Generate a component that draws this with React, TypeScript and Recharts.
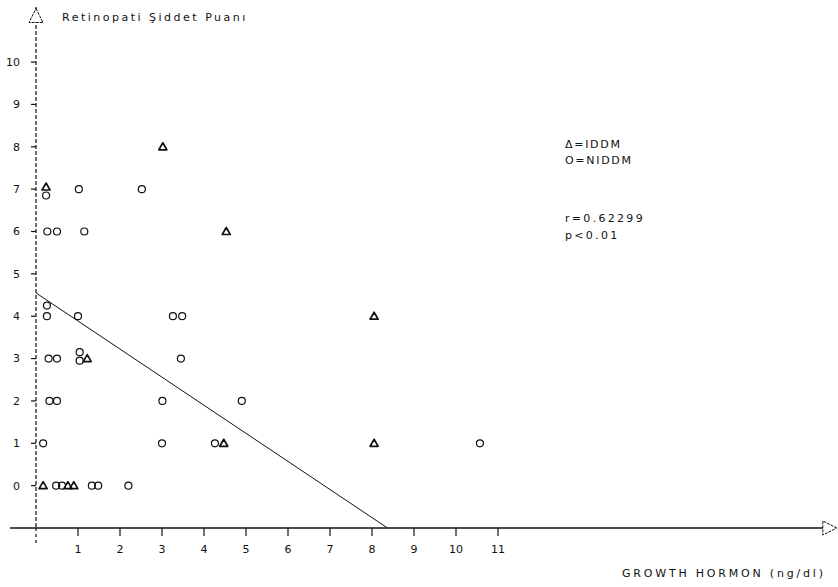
import {
  ScatterChart,
  Scatter,
  XAxis,
  YAxis,
  ReferenceLine,
  ReferenceDot,
} from "recharts";

const xTicks = [1, 2, 3, 4, 5, 6, 7, 8, 9, 10, 11];
const yTicks = [0, 1, 2, 3, 4, 5, 6, 7, 8, 9, 10];

// IDDM (triangles)
const iddm = [
  { x: 0.24, y: 7.05 },
  { x: 3.02, y: 8 },
  { x: 4.53, y: 6 },
  { x: 8.05, y: 4 },
  { x: 8.05, y: 1 },
  { x: 4.47, y: 1 },
  { x: 1.22, y: 3 },
  { x: 0.17, y: 0 },
  { x: 0.76, y: 0 },
  { x: 0.9, y: 0 },
];

// NIDDM (circles)
const niddm = [
  { x: 0.24, y: 6.85 },
  { x: 1.02, y: 7 },
  { x: 2.52, y: 7 },
  { x: 0.27, y: 6 },
  { x: 0.5, y: 6 },
  { x: 1.15, y: 6 },
  { x: 0.26, y: 4.25 },
  { x: 0.26, y: 4.0 },
  { x: 1.0, y: 4 },
  { x: 3.26, y: 4 },
  { x: 3.48, y: 4 },
  { x: 0.3, y: 3 },
  { x: 0.5, y: 3 },
  { x: 1.04, y: 3.15 },
  { x: 1.04, y: 2.95 },
  { x: 3.45, y: 3 },
  { x: 0.32, y: 2 },
  { x: 0.5, y: 2 },
  { x: 3.01, y: 2 },
  { x: 4.9, y: 2 },
  { x: 0.17, y: 1 },
  { x: 3.0, y: 1 },
  { x: 4.26, y: 1 },
  { x: 10.57, y: 1 },
  { x: 0.48, y: 0 },
  { x: 0.62, y: 0 },
  { x: 1.33, y: 0 },
  { x: 1.48, y: 0 },
  { x: 2.2, y: 0 },
];

// regression line end points
const fitLine = [
  { x: 0, y: 4.55 },
  { x: 8.37, y: -1 },
];

const font = "'DejaVu Sans', sans-serif";
const ink = "#111";

function CircleMark(props: any) {
  const { cx, cy } = props;
  return <circle cx={cx} cy={cy} r={3.5} fill="none" stroke={ink} strokeWidth={1.2} />;
}

function TriMark(props: any) {
  const { cx, cy } = props;
  return (
    <path
      d={`M${cx},${cy - 4}L${cx + 4},${cy + 3}L${cx - 4},${cy + 3}Z`}
      fill="none"
      stroke={ink}
      strokeWidth={1.7}
      strokeLinejoin="round"
    />
  );
}

function NoMark() {
  return <g />;
}

function UpArrow(props: any) {
  const { cx, cy } = props;
  return (
    <path
      d={`M${cx},${cy - 7}L${cx + 7},${cy + 7}L${cx - 7},${cy + 7}Z`}
      fill="#fff"
      stroke={ink}
      strokeWidth={1}
      strokeDasharray="3 1"
    />
  );
}

function RightArrow(props: any) {
  const { cx, cy } = props;
  return (
    <path
      d={`M${cx + 7},${cy}L${cx - 7},${cy - 7}L${cx - 7},${cy + 7}Z`}
      fill="#fff"
      stroke={ink}
      strokeWidth={1}
      strokeDasharray="3 1"
    />
  );
}

const txt: React.CSSProperties = {
  position: "absolute",
  fontFamily: font,
  fontSize: 11,
  lineHeight: "11px",
  color: ink,
  whiteSpace: "nowrap",
};

export default function App() {
  return (
    <div style={{ position: "absolute", left: 0, top: 0, width: 838, height: 587, background: "#fff" }}>
      <ScatterChart
        width={838}
        height={587}
        margin={{ top: 7, right: 4, bottom: 19, left: 8 }}
      >
        <XAxis
          type="number"
          dataKey="x"
          domain={[0, 19]}
          ticks={xTicks}
          allowDataOverflow
          height={40}
          axisLine={false}
          tickLine={{ stroke: ink, strokeWidth: 1.2 }}
          tickSize={8}
          tickMargin={9}
          tick={{ fill: ink, fontSize: 11, fontFamily: font }}
        />
        <YAxis
          type="number"
          dataKey="y"
          domain={[-1, 11.3]}
          ticks={yTicks}
          allowDataOverflow
          width={28}
          axisLine={{ stroke: ink, strokeWidth: 1.2, strokeDasharray: "4 2" }}
          tickLine={{ stroke: ink, strokeWidth: 1.2 }}
          tickSize={5}
          tickMargin={11}
          tick={{ fill: ink, fontSize: 11, fontFamily: font }}
        />
        <ReferenceLine
          segment={[
            { x: -0.62, y: -1 },
            { x: 18.8, y: -1 },
          ]}
          stroke={ink}
          strokeWidth={1.3}
          ifOverflow="visible"
        />
        <ReferenceLine
          segment={[
            { x: 0, y: -1 },
            { x: 0, y: -1.4 },
          ]}
          stroke={ink}
          strokeWidth={1.2}
          strokeDasharray="3 3"
          ifOverflow="visible"
        />
        <ReferenceDot x={0} y={11.1} r={7} shape={UpArrow} ifOverflow="visible" />
        <ReferenceDot x={18.9} y={-1} r={7} shape={RightArrow} ifOverflow="visible" />
        <Scatter
          data={fitLine}
          line={{ stroke: ink, strokeWidth: 1 }}
          shape={NoMark}
          isAnimationActive={false}
        />
        <Scatter data={niddm} shape={CircleMark} isAnimationActive={false} />
        <Scatter data={iddm} shape={TriMark} isAnimationActive={false} />
      </ScatterChart>

      <div style={{ ...txt, left: 62, top: 12, letterSpacing: 2.5 }}>Retinopati Şiddet Puanı</div>
      <div style={{ ...txt, left: 565, top: 139, letterSpacing: 1.7 }}>Δ=IDDM</div>
      <div style={{ ...txt, left: 565, top: 155, letterSpacing: 1.7 }}>O=NIDDM</div>
      <div style={{ ...txt, left: 565, top: 213, letterSpacing: 2.3 }}>r=0.62299</div>
      <div style={{ ...txt, left: 565, top: 230, letterSpacing: 2.3 }}>p&lt;0.01</div>
      <div style={{ ...txt, left: 622, top: 568, letterSpacing: 2.8 }}>GROWTH HORMON (ng/dl)</div>
    </div>
  );
}
